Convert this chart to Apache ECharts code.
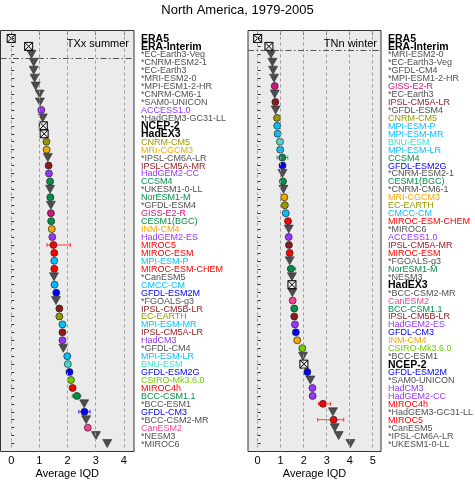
<!DOCTYPE html>
<html><head><meta charset="utf-8">
<script src="https://cdn.jsdelivr.net/npm/echarts@6/dist/echarts.min.js"></script>
<style>html,body{margin:0;padding:0;background:#fff}#c{width:475px;height:480px}</style>
</head><body><div id="c"></div>
<script>
// ---------- data ----------
const chartTitle = 'North America, 1979-2005';
const panelTitles = ['TXx summer', 'TNn winter'];
const axisName = 'Average IQD';
const referenceSets = ['ERA5', 'ERA-Interim', 'NCEP-2', 'HadEX3'];

const leftModels = ['ERA5','ERA-Interim','*EC-Earth3-Veg','*CNRM-ESM2-1','*EC-Earth3','*MRI-ESM2-0','*MPI-ESM1-2-HR','*CNRM-CM6-1','*SAM0-UNICON','ACCESS1.0','*HadGEM3-GC31-LL','NCEP-2','HadEX3','CNRM-CM5','MRI-CGCM3','*IPSL-CM6A-LR','IPSL-CM5A-MR','HadGEM2-CC','CCSM4','*UKESM1-0-LL','NorESM1-M','*GFDL-ESM4','GISS-E2-R','CESM1(BGC)','INM-CM4','HadGEM2-ES','MIROC5','MIROC-ESM','MPI-ESM-P','MIROC-ESM-CHEM','*CanESM5','CMCC-CM','GFDL-ESM2M','*FGOALS-g3','IPSL-CM5B-LR','EC-EARTH','MPI-ESM-MR','IPSL-CM5A-LR','HadCM3','*GFDL-CM4','MPI-ESM-LR','BNU-ESM','GFDL-ESM2G','CSIRO-Mk3.6.0','MIROC4h','BCC-CSM1.1','*BCC-ESM1','GFDL-CM3','*BCC-CSM2-MR','CanESM2','*NESM3','*MIROC6'];
const leftIQD = [0.00,0.62,0.72,0.80,0.80,0.83,0.87,1.01,1.02,1.07,1.12,1.14,1.17,1.25,1.26,1.30,1.33,1.34,1.38,1.38,1.39,1.41,1.41,1.42,1.44,1.46,1.50,1.53,1.53,1.53,1.52,1.54,1.60,1.59,1.71,1.71,1.82,1.82,1.82,1.85,1.99,2.01,2.07,2.12,2.18,2.33,2.59,2.60,2.66,2.72,3.01,3.41];
const leftErrModels = ['MIROC5','BCC-CSM1.1','GFDL-CM3'];
const leftErrLow  = [1.27, 2.17, 2.40];
const leftErrHigh = [2.10, 2.47, 2.80];
const leftTicks = [0, 1, 2, 3, 4];
const leftRange = [-0.38, 4.36];
const leftRefLine = 3.5;

const rightModels = ['ERA5','ERA-Interim','*MRI-ESM2-0','*EC-Earth3-Veg','*GFDL-CM4','*MPI-ESM1-2-HR','GISS-E2-R','*EC-Earth3','IPSL-CM5A-LR','*GFDL-ESM4','CNRM-CM5','MPI-ESM-P','MPI-ESM-MR','BNU-ESM','MPI-ESM-LR','CCSM4','GFDL-ESM2G','*CNRM-ESM2-1','CESM1(BGC)','*CNRM-CM6-1','MRI-CGCM3','EC-EARTH','CMCC-CM','MIROC-ESM-CHEM','*MIROC6','ACCESS1.0','IPSL-CM5A-MR','MIROC-ESM','*FGOALS-g3','NorESM1-M','*NESM3','HadEX3','*BCC-CSM2-MR','CanESM2','BCC-CSM1.1','IPSL-CM5B-LR','HadGEM2-ES','GFDL-CM3','INM-CM4','CSIRO-Mk3.6.0','*BCC-ESM1','NCEP-2','GFDL-ESM2M','*SAM0-UNICON','HadCM3','HadGEM2-CC','MIROC4h','*HadGEM3-GC31-LL','MIROC5','*CanESM5','*IPSL-CM6A-LR','*UKESM1-0-LL'];
const rightIQD = [0.00,0.49,0.58,0.64,0.67,0.71,0.74,0.74,0.77,0.78,0.84,0.85,0.87,0.97,0.98,1.07,1.08,1.08,1.10,1.12,1.16,1.18,1.22,1.32,1.35,1.35,1.36,1.39,1.39,1.45,1.49,1.49,1.51,1.52,1.59,1.59,1.62,1.66,1.72,1.94,1.97,2.01,2.16,2.29,2.38,2.39,2.84,3.27,3.30,3.35,3.52,4.03];
const rightErrModels = ['CCSM4','NorESM1-M','MIROC4h','MIROC5'];
const rightErrLow  = [0.84, 1.30, 2.65, 2.61];
const rightErrHigh = [1.31, 1.65, 3.16, 3.74];
const rightTicks = [0, 1, 2, 3, 4, 5];
const rightRange = [-0.42, 5.36];
const rightRefLine = 2.5;

// ---------- styles ----------
const FONT = '"Liberation Sans", Arial, Helvetica, sans-serif';
const cmip5Colors = {
  'ACCESS1.0':'#9933FF','HadGEM2-CC':'#9933FF','HadGEM2-ES':'#9933FF','HadCM3':'#9933FF',
  'CNRM-CM5':'#999900','EC-EARTH':'#999900',
  'MRI-CGCM3':'#F5A800','INM-CM4':'#F5A800',
  'IPSL-CM5A-MR':'#8B1A1A','IPSL-CM5A-LR':'#8B1A1A','IPSL-CM5B-LR':'#8B1A1A',
  'CCSM4':'#009147','NorESM1-M':'#009147','CESM1(BGC)':'#009147','BCC-CSM1.1':'#009147',
  'GISS-E2-R':'#D1127F',
  'MIROC5':'#FF0000','MIROC-ESM':'#FF0000','MIROC-ESM-CHEM':'#FF0000','MIROC4h':'#FF0000',
  'MPI-ESM-P':'#00BFFF','MPI-ESM-MR':'#00BFFF','MPI-ESM-LR':'#00BFFF','CMCC-CM':'#00BFFF',
  'GFDL-ESM2M':'#0000FF','GFDL-ESM2G':'#0000FF','GFDL-CM3':'#0000FF',
  'BNU-ESM':'#40E0D0',
  'CSIRO-Mk3.6.0':'#70CD00',
  'CanESM2':'#FF3E96'
};
const CMIP6_FILL = '#4D4D4D';
const CMIP6_TEXT = '#505050';

function kind(name) {
  if (referenceSets.indexOf(name) >= 0) return 'ref';
  if (name.charAt(0) === '*') return 'cmip6';
  return 'cmip5';
}
function labelStyle(name) {
  const k = kind(name);
  if (k === 'ref') return {fill: '#000', fontSize: 10.5, fontWeight: 'bold'};
  if (k === 'cmip6') return {fill: CMIP6_TEXT, fontSize: 9, fontWeight: 'normal'};
  return {fill: cmip5Colors[name], fontSize: 9, fontWeight: 'normal'};
}

const grids = [], xAxes = [], yAxes = [], series = [], graphics = [];

function buildPanel(idx, models, vals, errModels, errLo, errHi, ticks, range, refLine, gridLeft, gridWidth) {
  grids.push({left: gridLeft, top: 30.5, width: gridWidth, height: 421, show: true,
    containLabel: false, outerBoundsMode: 'none',
    backgroundColor: '#EBEBEB', borderColor: '#333', borderWidth: 1});
  xAxes.push({gridIndex: idx, type: 'value', min: range[0], max: range[1], position: 'bottom',
    axisLine: {show: false}, splitLine: {show: false},
    axisTick: {show: true, length: 4, lineStyle: {color: '#333', width: 1}, customValues: ticks},
    axisLabel: {customValues: ticks, fontSize: 11, color: '#000', margin: 4, fontFamily: FONT,
      showMinLabel: true, showMaxLabel: true}});
  const rows = models.map(function (m, i) { return i + 1; });
  yAxes.push({gridIndex: idx, type: 'value', inverse: true, min: 0, max: models.length + 1, interval: 1,
    position: 'right', axisLine: {show: false}, splitLine: {show: false},
    axisTick: {show: true, length: 3, inside: false, lineStyle: {color: '#333', width: 1}, customValues: rows},
    axisLabel: {show: false}});

  // grid lines + reference separator
  const ml = ticks.map(function (t) {
    return {xAxis: t, lineStyle: {type: [3, 3], color: '#9A9A9A', width: 1}};
  });
  ml.push({yAxis: refLine, lineStyle: {type: [6, 2.5, 1.5, 2.5], color: '#555', width: 1}});
  series.push({type: 'scatter', xAxisIndex: idx, yAxisIndex: idx, data: [], z: 1, silent: true,
    markLine: {silent: true, symbol: ['none', 'none'], label: {show: false}, animation: false, data: ml}});

  // row labels, placed right of the panel at each row of the y axis
  series.push({type: 'custom', xAxisIndex: idx, yAxisIndex: idx, z: 5, silent: true, clip: false,
    data: models.map(function (m, i) { return [range[1], i + 1]; }),
    renderItem: function (params, api) {
      const name = models[params.dataIndex];
      const p = api.coord([api.value(0), api.value(1)]);
      const s = labelStyle(name);
      return {type: 'text', x: p[0] + 7, y: p[1] + 0.5,
        style: {text: name, fill: s.fill, fontSize: s.fontSize, fontWeight: s.fontWeight,
          fontFamily: FONT, align: 'left', verticalAlign: 'middle'}};
    }});

  // axis name, centred under the panel
  series.push({type: 'custom', xAxisIndex: idx, yAxisIndex: idx, z: 5, silent: true, clip: false,
    data: [[(range[0] + range[1]) / 2, models.length + 1]],
    renderItem: function (params, api) {
      const p = api.coord([api.value(0), api.value(1)]);
      return {type: 'text', x: p[0], y: p[1] + 22,
        style: {text: axisName, fill: '#000', fontSize: 11, fontFamily: FONT,
          align: 'center', verticalAlign: 'middle'}};
    }});

  // error bars
  series.push({type: 'custom', xAxisIndex: idx, yAxisIndex: idx, z: 2, silent: true,
    data: errModels.map(function (m, i) { return [errLo[i], errHi[i], models.indexOf(m) + 1]; }),
    renderItem: function (params, api) {
      const m = errModels[params.dataIndex];
      const c = cmip5Colors[m] || '#333';
      const a = api.coord([api.value(0), api.value(2)]);
      const b = api.coord([api.value(1), api.value(2)]);
      const st = {stroke: c, lineWidth: 1, opacity: 0.75};
      return {type: 'group', children: [
        {type: 'line', shape: {x1: a[0], y1: a[1], x2: b[0], y2: b[1]}, style: st},
        {type: 'line', shape: {x1: a[0], y1: a[1] - 2, x2: a[0], y2: a[1] + 2}, style: st},
        {type: 'line', shape: {x1: b[0], y1: b[1] - 2, x2: b[0], y2: b[1] + 2}, style: st}
      ]};
    }});

  const refData = [], c6Data = [], c5Data = [];
  models.forEach(function (m, i) {
    const item = {name: m, value: [vals[i], i + 1]};
    const k = kind(m);
    if (k === 'ref') refData.push(item);
    else if (k === 'cmip6') c6Data.push(item);
    else c5Data.push(item);
  });
  series.push({type: 'scatter', xAxisIndex: idx, yAxisIndex: idx, z: 3, data: c6Data,
    symbol: 'triangle', symbolRotate: 180, symbolSize: [9, 8],
    itemStyle: {color: CMIP6_FILL, borderColor: '#2A2A2A', borderWidth: 0.6, opacity: 1}});
  series.push({type: 'scatter', xAxisIndex: idx, yAxisIndex: idx, z: 4, data: c5Data,
    symbol: 'circle', symbolSize: 7,
    itemStyle: {color: function (p) { return cmip5Colors[p.name]; }, borderColor: '#222', borderWidth: 0.7, opacity: 1}});
  series.push({type: 'scatter', xAxisIndex: idx, yAxisIndex: idx, z: 4, data: refData,
    symbol: 'path://M0,0L10,0L10,10L0,10Z M0,0L10,10 M10,0L0,10', symbolSize: 8,
    itemStyle: {color: 'rgba(0,0,0,0)', borderColor: '#000', borderWidth: 1, opacity: 1}});
}

buildPanel(0, leftModels, leftIQD, leftErrModels, leftErrLow, leftErrHigh, leftTicks, leftRange, leftRefLine, 0.5, 133.5);
buildPanel(1, rightModels, rightIQD, rightErrModels, rightErrLow, rightErrHigh, rightTicks, rightRange, rightRefLine, 248, 133);

graphics.push({type: 'text', x: 129, y: 44, z: 10,
  style: {text: panelTitles[0], fontSize: 11, fontFamily: FONT, fill: '#000', align: 'right', verticalAlign: 'middle'}});
graphics.push({type: 'text', x: 377, y: 44, z: 10,
  style: {text: panelTitles[1], fontSize: 11, fontFamily: FONT, fill: '#000', align: 'right', verticalAlign: 'middle'}});

const chart = echarts.init(document.getElementById('c'), null, {renderer: 'canvas'});
chart.setOption({
  animation: false,
  backgroundColor: '#fff',
  textStyle: {fontFamily: FONT},
  title: {text: chartTitle, left: 'center', top: -1,
    textStyle: {fontSize: 13, fontWeight: 'normal', color: '#000', fontFamily: FONT}},
  grid: grids, xAxis: xAxes, yAxis: yAxes, series: series, graphic: graphics
});
</script></body></html>
